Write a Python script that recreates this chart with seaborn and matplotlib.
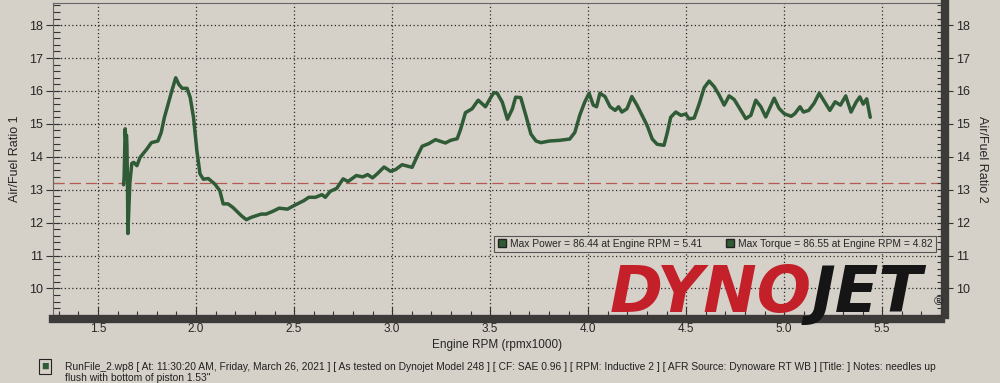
import matplotlib
matplotlib.use("Agg")
from matplotlib import pyplot as plt
from matplotlib.lines import Line2D
from matplotlib.ticker import MultipleLocator
import pandas as pd
import seaborn as sns

# trace (engine rpm x1000, air/fuel ratio)
rpm = [
    1.630, 1.633, 1.636, 1.638, 1.641, 1.645, 1.647, 1.650, 1.652, 1.656,
    1.662, 1.672, 1.682, 1.698, 1.714, 1.748, 1.772, 1.805, 1.822, 1.838,
    1.855, 1.876, 1.896, 1.912, 1.929, 1.954, 1.970, 1.987, 2.004, 2.020,
    2.037, 2.062, 2.096, 2.121, 2.138, 2.163, 2.188, 2.231, 2.256, 2.281,
    2.306, 2.332, 2.357, 2.390, 2.424, 2.466, 2.500, 2.550, 2.575, 2.609,
    2.642, 2.659, 2.684, 2.717, 2.750, 2.775, 2.817, 2.850, 2.875, 2.900,
    2.925, 2.959, 2.992, 3.017, 3.051, 3.102, 3.128, 3.153, 3.187, 3.221,
    3.247, 3.272, 3.298, 3.332, 3.349, 3.374, 3.408, 3.439, 3.476, 3.502,
    3.519, 3.536, 3.562, 3.588, 3.613, 3.630, 3.656, 3.682, 3.708, 3.734,
    3.759, 3.803, 3.854, 3.906, 3.932, 3.957, 3.983, 4.005, 4.026, 4.043,
    4.060, 4.086, 4.112, 4.138, 4.155, 4.172, 4.198, 4.223, 4.249, 4.275,
    4.301, 4.327, 4.352, 4.387, 4.404, 4.421, 4.447, 4.473, 4.498, 4.515,
    4.541, 4.566, 4.592, 4.617, 4.643, 4.668, 4.694, 4.719, 4.745, 4.779,
    4.804, 4.830, 4.855, 4.881, 4.906, 4.949, 4.974, 5.000, 5.036, 5.054,
    5.081, 5.098, 5.125, 5.152, 5.179, 5.206, 5.233, 5.260, 5.287, 5.314,
    5.341, 5.368, 5.386, 5.403, 5.421, 5.439,
]
afr = [
    13.15, 13.40, 14.20, 14.85, 14.55, 14.65, 14.35, 13.20, 11.67, 12.30,
    13.20, 13.80, 13.83, 13.73, 13.98, 14.23, 14.43, 14.48, 14.74, 15.19,
    15.55, 16.00, 16.40, 16.20, 16.08, 16.08, 15.80, 15.19, 14.18, 13.48,
    13.32, 13.34, 13.17, 12.97, 12.57, 12.57, 12.46, 12.21, 12.09, 12.16,
    12.21, 12.26, 12.26, 12.34, 12.44, 12.41, 12.52, 12.67, 12.77, 12.77,
    12.85, 12.77, 12.95, 13.04, 13.33, 13.25, 13.43, 13.39, 13.46, 13.36,
    13.49, 13.69, 13.56, 13.61, 13.76, 13.68, 14.02, 14.32, 14.40, 14.52,
    14.47, 14.42, 14.50, 14.55, 14.83, 15.34, 15.46, 15.72, 15.52, 15.79,
    15.95, 15.93, 15.66, 15.14, 15.45, 15.81, 15.80, 15.26, 14.69, 14.48,
    14.43, 14.48, 14.50, 14.54, 14.74, 15.26, 15.67, 15.93, 15.57, 15.52,
    15.93, 15.83, 15.52, 15.41, 15.52, 15.36, 15.46, 15.83, 15.57, 15.26,
    14.95, 14.54, 14.38, 14.35, 14.74, 15.20, 15.36, 15.26, 15.30, 15.15,
    15.18, 15.60, 16.10, 16.30, 16.13, 15.88, 15.57, 15.85, 15.74, 15.41,
    15.16, 15.26, 15.72, 15.52, 15.21, 15.78, 15.47, 15.31, 15.23, 15.31,
    15.52, 15.36, 15.41, 15.62, 15.93, 15.67, 15.41, 15.67, 15.57, 15.85,
    15.36, 15.67, 15.82, 15.60, 15.76, 15.20,
]
afr_target = 13.2
x_ticks = [1.5, 2.0, 2.5, 3.0, 3.5, 4.0, 4.5, 5.0, 5.5]
y_ticks = [10, 11, 12, 13, 14, 15, 16, 17, 18]
legend_labels = [
    "Max Power = 86.44 at Engine RPM = 5.41",
    "Max Torque = 86.55 at Engine RPM = 4.82",
]
footer_lines = [
    "RunFile_2.wp8 [ At: 11:30:20 AM, Friday, March 26, 2021 ] [ As tested on Dynojet Model 248 ] "
    "[ CF: SAE 0.96 ] [ RPM: Inductive 2 ] [ AFR Source: Dynoware RT WB ] [Title: ] Notes: needles up",
    'flush with bottom of piston 1.53"',
]

PAPER = "#d5d0c8"
TRACE = "#2f5b36"
BAND = "#3d3b3a"

sns.set_theme(style="white")
plt.rcParams["font.family"] = ["Liberation Sans", "DejaVu Sans"]

fig = plt.figure(figsize=(10, 3.83), dpi=100, facecolor=PAPER)
ax = fig.add_axes([0.053, 0.178, 0.888, 0.814])
ax.set_facecolor(PAPER)

frame = pd.DataFrame({"rpm": rpm, "afr": afr})
sns.lineplot(data=frame, x="rpm", y="afr", sort=False, estimator=None,
             color=TRACE, lw=2.5, ax=ax, zorder=4)
ax.axhline(afr_target, color="#b45a55", lw=0.9, dashes=(9, 4), zorder=2)

ax.set_xlim(1.27, 5.80)
ax.set_ylim(9.2, 18.67)
ax.set_xticks(x_ticks)
ax.set_yticks(y_ticks)
ax.xaxis.set_minor_locator(MultipleLocator(0.1))
ax.yaxis.set_minor_locator(MultipleLocator(0.2))
ax.grid(True, which="major", color="#2a2a2a", ls=(0, (1, 2)), lw=0.9)
ax.set_axisbelow(True)

ax.set_xlabel("Engine RPM (rpmx1000)", fontsize=8.5, labelpad=3)
ax.set_ylabel("Air/Fuel Ratio 1", fontsize=9, labelpad=6)

for side in ["top", "left"]:
    ax.spines[side].set_color("#666")
    ax.spines[side].set_linewidth(0.8)
ax.spines["right"].set_visible(False)
ax.spines["bottom"].set_color(BAND)
ax.spines["bottom"].set_linewidth(6)
ax.spines["bottom"].set_position(("outward", 3))

ax.tick_params(axis="x", which="major", direction="in", length=9, width=0.8,
               color="#333", labelsize=8.5, pad=3, bottom=True)
ax.tick_params(axis="x", which="minor", direction="in", length=6, width=0.8,
               color="#333", bottom=True)
ax.tick_params(axis="y", which="major", direction="inout", length=10, width=0.8,
               color="#333", labelsize=9, pad=2, left=True)
ax.tick_params(axis="y", which="minor", direction="in", length=5, width=0.8,
               color="#333", left=True)

twin = ax.twinx()
twin.set_ylim(ax.get_ylim())
twin.set_yticks(y_ticks)
twin.yaxis.set_minor_locator(MultipleLocator(0.2))
twin.set_ylabel("Air/Fuel Ratio 2", fontsize=9, rotation=270, labelpad=13)
for side in ["top", "left", "bottom"]:
    twin.spines[side].set_visible(False)
twin.spines["right"].set_color(BAND)
twin.spines["right"].set_linewidth(6)
twin.spines["right"].set_position(("outward", 3))
twin.tick_params(axis="y", which="major", direction="inout", length=12, width=0.8,
                 color="#333", labelsize=9, pad=2, right=True)
twin.tick_params(axis="y", which="minor", direction="in", length=6, width=0.8,
                 color="#333", right=True)

handles = [Line2D([], [], marker="s", ls="none", markersize=5.5,
                  markerfacecolor=TRACE, markeredgecolor="#222") for _ in legend_labels]
leg = twin.legend(handles, legend_labels, ncol=2, loc="center right",
                  bbox_to_anchor=(1.0, 0.228), frameon=True, fancybox=False,
                  edgecolor="#555", facecolor=PAPER, framealpha=1, fontsize=7.4,
                  handlelength=1.0, handletextpad=0.3, columnspacing=2.2,
                  borderpad=0.3)
leg.get_frame().set_linewidth(0.8)

# Dynojet logo over the lower right of the plot
fig.text(0.812, 0.186, "DYNO", ha="right", va="baseline", color="#c4202a",
         fontsize=46, fontweight="heavy", style="italic", family="DejaVu Sans", zorder=10)
fig.text(0.812, 0.186, "JET", ha="left", va="baseline", color="#151515",
         fontsize=46, fontweight="heavy", style="italic", family="DejaVu Sans", zorder=10)
fig.text(0.938, 0.212, "\u00ae", ha="center", va="center", fontsize=9, zorder=10)

# footer run info
fig.text(0.045, 0.043, "\u25a0", ha="center", va="center", fontsize=9, color=TRACE,
         bbox=dict(boxstyle="square,pad=0.15", fc=PAPER, ec="#222", lw=0.8))
fig.text(0.065, 0.043, footer_lines[0], ha="left", va="center", fontsize=7.4,
         color="#222")
fig.text(0.065, 0.014, footer_lines[1], ha="left", va="center", fontsize=7.4,
         color="#222")

fig.savefig("out.png", dpi=100, facecolor=PAPER)
